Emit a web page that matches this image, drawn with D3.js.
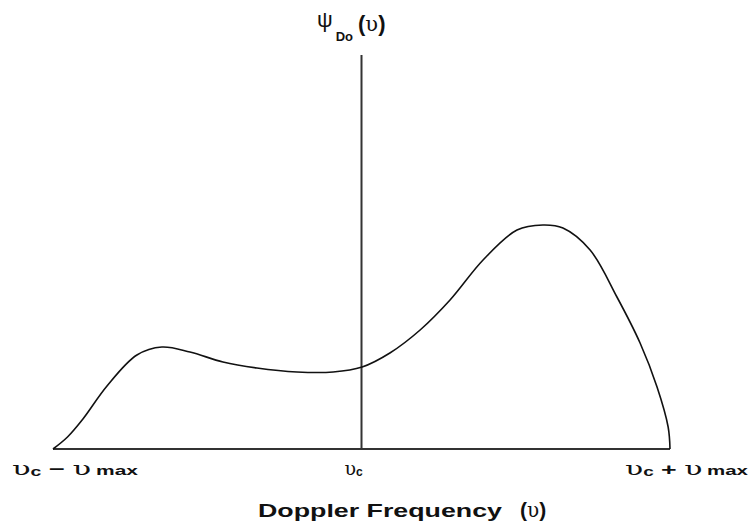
<!DOCTYPE html>
<html><head><meta charset="utf-8">
<script src="https://cdn.jsdelivr.net/npm/d3@7"></script>
<style>
html,body{margin:0;padding:0;background:#fff;}
text{font-family:"Liberation Sans",Arial,sans-serif;fill:#111;font-weight:bold;}
.g{font-family:"DejaVu Serif",serif;font-weight:normal;}
</style></head>
<body>
<svg id="chart" width="755" height="524"></svg>
<script>
// Normalised Doppler frequency (nu - nu_c)/nu_max and spectrum height (arbitrary units)
const nu = [-1,-0.953,-0.903,-0.825,-0.728,-0.647,-0.556,-0.449,-0.339,-0.209,-0.092,0.002,0.092,0.19,0.287,0.394,0.504,0.588,0.653,0.741,0.828,0.903,0.958,0.994,1];
const psi = [0,12,30,63,94,102,97,87,81,77,77,82,96,119,149,189,219,224,221,199,152,106,62,22,0];
const tickValues = [-1,0,1];
const tickMain = ["υ","υ","υ"];
const tickSub = ["c","c","c"];
const tickOp = [" − ","", " + "];
const tickMax = ["υ","", "υ"];
const yAxisTop = 394;

const svg = d3.select("#chart");
const x = d3.scaleLinear().domain([-1,1]).range([53,670]);
const y = d3.scaleLinear().domain([0,224]).range([449,225]);

// baseline axis
svg.append("line").attr("x1",x(-1)).attr("x2",x(1)).attr("y1",y(0)).attr("y2",y(0))
  .attr("stroke","#333").attr("stroke-width",2);
// vertical axis at nu_c
svg.append("line").attr("x1",x(0)).attr("x2",x(0)).attr("y1",y(0)).attr("y2",y(yAxisTop))
  .attr("stroke","#333").attr("stroke-width",2);

// curve
const line = d3.line().x((d,i)=>x(nu[i])).y(d=>y(d)).curve(d3.curveCatmullRom.alpha(0.5));
svg.append("path").datum(psi).attr("d",line).attr("fill","none")
  .attr("stroke","#111").attr("stroke-width",1.6);

// tick labels
const offs = [-41,-17,-45];
const lens = [126,0,123];
tickValues.forEach((v,i)=>{
  const t = svg.append("text").attr("x",x(v)+offs[i]).attr("y",475).attr("font-size",17);
  t.append("tspan").attr("class","g").attr("font-size",19).text(tickMain[i]);
  t.append("tspan").attr("font-size",12).attr("dy",1).text(tickSub[i]);
  if(tickOp[i]){
    t.append("tspan").attr("dy",-1).text(tickOp[i]);
    t.append("tspan").attr("class","g").attr("font-size",19).text(tickMax[i]);
    t.append("tspan").attr("font-size",13).attr("dx",3).text("max");
    t.attr("textLength",lens[i]).attr("lengthAdjust","spacingAndGlyphs");
  }
});

// x title
svg.append("text").attr("x",258).attr("y",517).attr("font-size",19)
  .attr("textLength",244).attr("lengthAdjust","spacingAndGlyphs").text("Doppler Frequency");
const xp = svg.append("text").attr("x",520).attr("y",517).attr("font-size",21);
xp.append("tspan").text("(");
xp.append("tspan").attr("class","g").attr("font-size",20).text("υ");
xp.append("tspan").text(")");

// y title
const yt = svg.append("text").attr("x",317).attr("y",27).attr("font-size",22);
yt.append("tspan").attr("font-weight","normal").text("ψ");
yt.append("tspan").attr("font-size",13).attr("dx",3).attr("dy",14).text("Do");
yt.append("tspan").attr("dx",5).attr("dy",-10).text("(");
yt.append("tspan").attr("class","g").attr("font-size",21).text("υ");
yt.append("tspan").text(")");
</script>
</body></html>
